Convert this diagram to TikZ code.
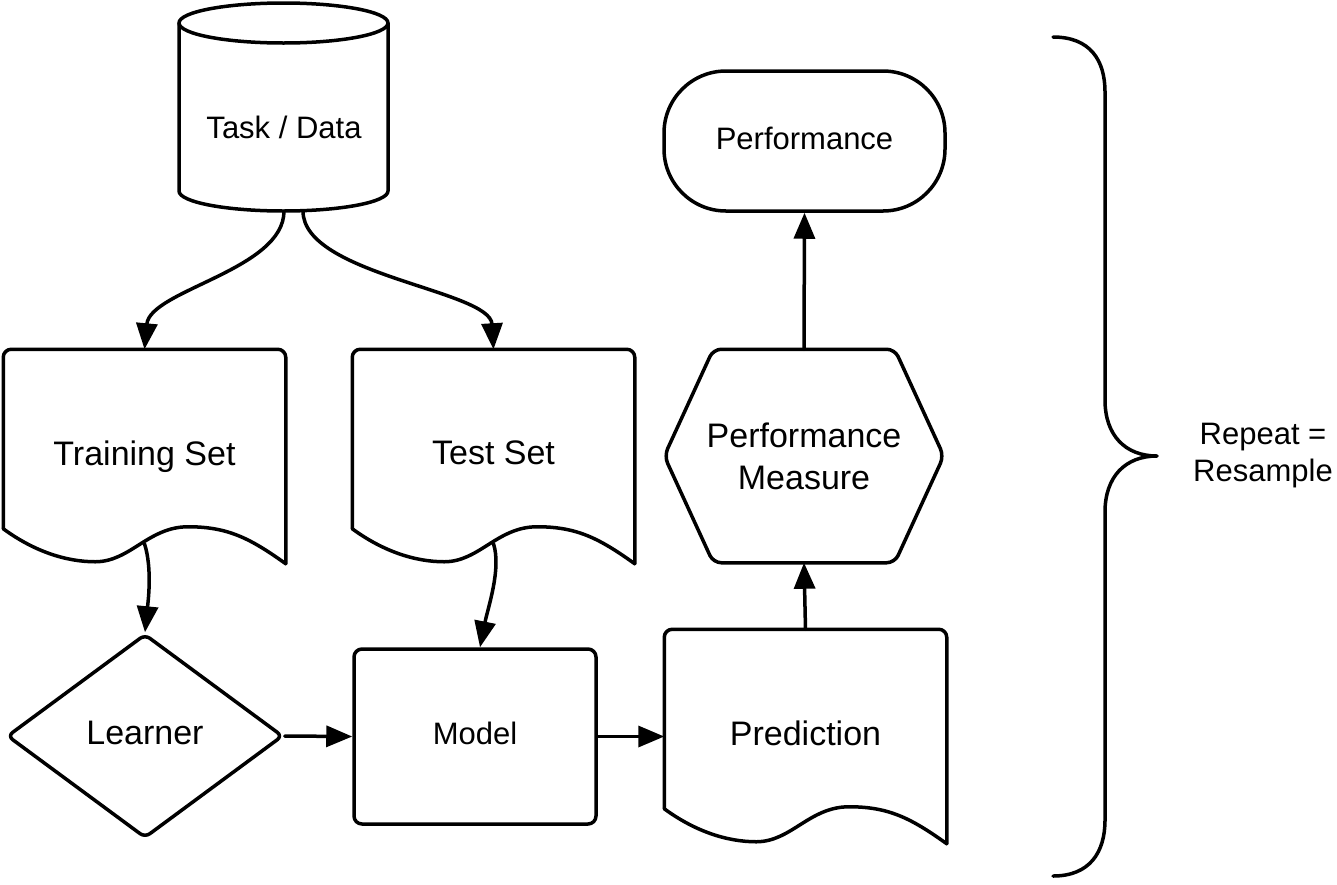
\documentclass[tikz,border=0pt]{standalone}
\usepackage{fontspec}
\setmainfont{Liberation Sans}
\usetikzlibrary{shapes.geometric,arrows.meta,calc}
\tikzset{
  bigtxt/.style={font=\fontsize{34}{42}\selectfont,align=center},
  smalltxt/.style={font=\fontsize{31}{37}\selectfont,align=center},
  docbox/.style={draw=none,minimum width=279pt,minimum height=211pt,inner sep=0pt},
  arr/.style={-{Triangle[length=26pt,width=21pt]}},
}
\newcommand\docshape[1]{%
  \draw[rounded corners=8pt] ($(#1.south west)+(0,-35)$) -- (#1.north west) -- (#1.north east) -- (#1.south east);
  \draw ($(#1.south west)+(0,-35)$) .. controls +(30,22) and +(-30,0) .. ($(#1.south west)+(92,-2)$)
    .. controls +(35,0) and +(-40,0) .. ($(#1.south west)+(185,-37)$)
    .. controls +(40,0) and +(-35,-25) .. (#1.south east);}
\begin{document}
\begin{tikzpicture}[x=1pt,y=-1pt,line width=3.5pt,line join=round,line cap=round]
  \useasboundingbox (0,0) rectangle (1337,884);
  \draw (179,23) -- (179,191) arc[start angle=180,end angle=0,x radius=104.5,y radius=20]
    -- (388,23) arc[start angle=0,end angle=-180,x radius=104.5,y radius=20];
  \draw (179,23) arc[start angle=180,end angle=0,x radius=104.5,y radius=20];
  \node[smalltxt] (td) at (284,127) {Task / Data};
  \coordinate (tdl) at (284,211);
  \coordinate (tdr) at (303,211);
  \node[docbox,bigtxt,text depth=7pt] (train) at (144.5,456.5) {Training Set};
  \docshape{train}
  \node[docbox,bigtxt,text depth=7pt] (test) at (493.5,456.5) {Test Set};
  \docshape{test}
  \node[diamond,draw,bigtxt,text depth=7pt,minimum width=276pt,minimum height=204pt,inner sep=0pt,rounded corners=6pt] (learner) at (145,736) {Learner};
  \node[draw,smalltxt,text depth=6pt,rounded corners=8pt,minimum width=242pt,minimum height=175pt] (model) at (475,736.5) {Model};
  \node[docbox,bigtxt,text depth=7pt] (pred) at (805.5,736.5) {Prediction};
  \docshape{pred}
  \node[docbox,bigtxt,minimum width=276pt,minimum height=210pt] (pm) at (804,456) {Performance\\Measure};
  \draw[rounded corners=8pt] (pm.west) -- ($(pm.north west)+(49,0)$) -- ($(pm.north east)+(-49,0)$) -- (pm.east)
    -- ($(pm.south east)+(-49,0)$) -- ($(pm.south west)+(49,0)$) -- cycle;
  \node[draw,smalltxt,text depth=6pt,rounded corners=62pt,minimum width=281pt,minimum height=140pt] (perf) at (804.5,141) {Performance};
  \draw[arr] (tdl) .. controls (284,270) and (150,290) .. (train.north);
  \draw[arr] (tdr) .. controls (303,275) and (490,290) .. (test.north);
  \draw[arr] ($(train.south)+(0,-20)$) .. controls +(8,25) and +(3,-30) .. (learner.north);
  \draw[arr] ($(test.south)+(0,-20)$) .. controls +(8,25) and +(8,-40) .. ($(model.north)+(5,0)$);
  \draw[arr] (learner.east) -- (model.west);
  \draw[arr] (model.east) -- (pred.west);
  \draw[arr] (pred.north) -- (pm.south);
  \draw[arr] (pm.north) -- (perf.south);
  \draw (1053,37) .. controls (1090,37) and (1105,60) .. (1105,92) -- (1105,400)
    .. controls (1105,435) and (1125,456) .. (1157,456)
    .. controls (1125,456) and (1105,477) .. (1105,512) -- (1105,820)
    .. controls (1105,852) and (1090,876) .. (1053,876);
  \node[smalltxt] (rep) at (1263,456) {Repeat =\\Resample};
\end{tikzpicture}
\end{document}
